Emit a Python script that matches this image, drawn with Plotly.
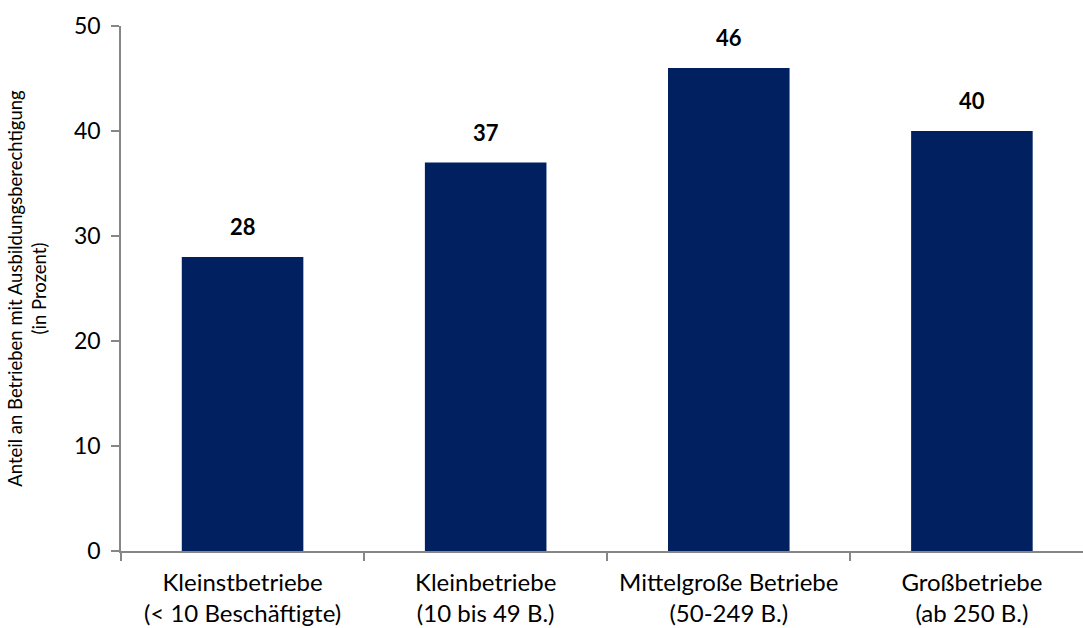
import plotly.graph_objects as go

# Betriebsgrößenklassen und Anteil mit Ausbildungsberechtigung (in %)
categories = [
    "Kleinstbetriebe<br>(< 10 Beschäftigte)",
    "Kleinbetriebe<br>(10 bis 49 B.)",
    "Mittelgroße Betriebe<br>(50-249 B.)",
    "Großbetriebe<br>(ab 250 B.)",
]
values = [28, 37, 46, 40]
y_ticks = [0, 10, 20, 30, 40, 50]

BAR_COLOR = "#002060"
AXIS_COLOR = "#868686"
FONT = "Lato"

fig = go.Figure(
    go.Bar(
        x=categories,
        y=values,
        width=0.5,
        marker=dict(color=BAR_COLOR, line=dict(width=0)),
        hoverinfo="skip",
    )
)

# Wertbeschriftungen über den Balken
for cat, val in zip(categories, values):
    fig.add_annotation(
        x=cat, y=val, text=f"<b>{val}</b>", showarrow=False,
        yanchor="bottom", yshift=15,
        font=dict(family=FONT, size=22, color="#000000"),
    )

fig.update_layout(
    width=1083, height=628,
    margin=dict(l=121, r=0, t=26, b=77),
    paper_bgcolor="white", plot_bgcolor="white",
    showlegend=False,
    font=dict(family=FONT, color="#000000"),
    bargap=0.5,
)

fig.update_xaxes(
    type="category",
    range=[-0.5, 3.457],
    automargin=False,
    showline=True, linecolor=AXIS_COLOR, linewidth=1.5,
    ticks="outside", tickson="boundaries", ticklen=8,
    tickcolor=AXIS_COLOR, tickwidth=1.5,
    tickfont=dict(family=FONT, size=24, color="#000000"),
    ticklabelstandoff=9,
    showgrid=False, zeroline=False,
)

fig.update_yaxes(
    range=[0, 50],
    tickvals=y_ticks,
    automargin=False,
    showline=True, linecolor=AXIS_COLOR, linewidth=1.5,
    ticks="outside", ticklen=8, tickcolor=AXIS_COLOR, tickwidth=1.5,
    tickfont=dict(family=FONT, size=23, color="#000000"),
    ticklabelstandoff=6,
    showgrid=False, zeroline=False,
    title=dict(
        text="Anteil an Betrieben mit Ausbildungsberechtigung<br>(in Prozent)",
        font=dict(family=FONT, size=18.5, color="#000000"),
        standoff=22,
    ),
)

fig.write_html("out.html")
